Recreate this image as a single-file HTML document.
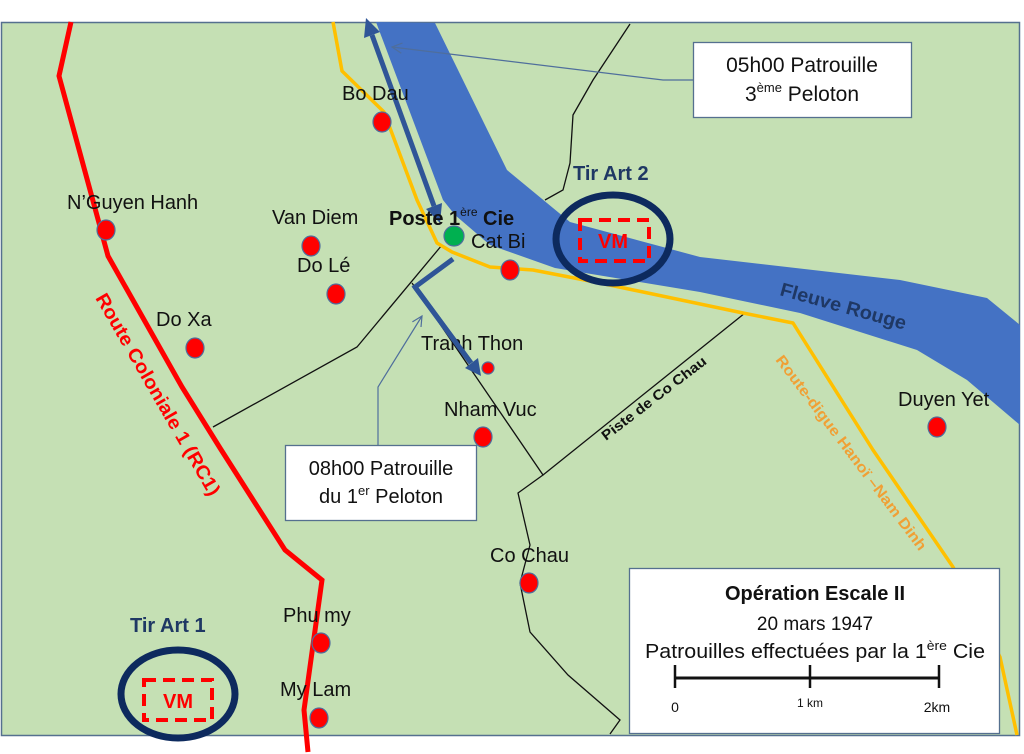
<!DOCTYPE html>
<html><head><meta charset="utf-8"><style>
html,body{margin:0;padding:0;background:#fff;}
svg{display:block;}
text{font-family:"Liberation Sans",Arial,sans-serif;}
</style></head><body>
<svg width="1024" height="754" viewBox="0 0 1024 754" xmlns="http://www.w3.org/2000/svg">
<rect x="0" y="0" width="1024" height="754" fill="#ffffff"/>
<rect x="1.5" y="22.5" width="1018" height="713" fill="#C5E0B4" stroke="#55708f" stroke-width="1.5"/>

<!-- tracks -->
<g fill="none" stroke="#111" stroke-width="1.3">
<polyline points="630,24 593,80 573,115 570,163 563,190 545,200"/>
<polyline points="442,245 357,347 213,427"/>
<polyline points="412,283 543,475 518,493 530,545 520,583 530,632 568,675 620,720 610,734"/>
<polyline points="543,475 745,313"/>
</g>

<!-- river -->
<polygon fill="#4472C4" points="376,22 435,23 507,170 570,222 700,257 900,280 987,298 1020,325 1020,425 967,380 917,350 800,313 700,292 555,268 490,245 455,215 443,200"/>

<!-- yellow road -->
<polyline fill="none" stroke="#FFC000" stroke-width="3.5" stroke-linejoin="round" points="333,22 342,71 384,112 417,200 437,243 452,252 490,267 533,270 600,283 743,313 793,323 873,450 953,567 1000,657 1017,735"/>

<!-- red road -->
<polyline fill="none" stroke="#FF0000" stroke-width="5" stroke-linejoin="miter" points="71,22 59,76 108,256 182,387 220,448 285,550 322,580 304,710 308,752"/>

<!-- dark arrow 1 (double headed) -->
<g fill="#2F5597" stroke="none">
<line x1="372" y1="35" x2="434" y2="206" stroke="#2F5597" stroke-width="5"/>
<polygon points="366,18 380,32 364,38"/>
<polygon points="440,223 442,203 426,209"/>
</g>
<!-- dark arrow 2 -->
<polyline fill="none" stroke="#2F5597" stroke-width="5" points="453,259 415,287 471,363"/>
<polygon fill="#2F5597" points="481,376 478,358 465,368"/>

<!-- callout lines -->
<g fill="none" stroke="#4F6E9C" stroke-width="1.2">
<polyline points="693,80 663,80 392,47"/>
<polyline points="402.5,43 392,47 401.3,53.2"/>
<polyline points="378,445 378,387 422,316"/>
<polyline points="421,327 422,316 412.4,321.9"/>
</g>

<!-- callout boxes -->
<rect x="693.5" y="42.5" width="218" height="75" fill="#fff" stroke="#55708f" stroke-width="1.3"/>
<text x="802" y="72" font-size="21" text-anchor="middle" fill="#111">05h00  Patrouille</text>
<text x="802" y="101" font-size="21" text-anchor="middle" fill="#111">3<tspan font-size="13" dy="-9">ème</tspan><tspan dy="9"> Peloton</tspan></text>

<rect x="285.5" y="445.5" width="191" height="75" fill="#fff" stroke="#55708f" stroke-width="1.3"/>
<text x="381" y="475" font-size="20" text-anchor="middle" fill="#111">08h00 Patrouille</text>
<text x="381" y="503" font-size="20" text-anchor="middle" fill="#111">du 1<tspan font-size="13" dy="-8">er</tspan><tspan dy="8"> Peloton</tspan></text>

<!-- Tir Art 2 -->
<ellipse cx="613" cy="239" rx="57" ry="44" fill="none" stroke="#0D2A5E" stroke-width="7"/>
<rect x="580" y="220" width="69" height="41" fill="none" stroke="#FF0000" stroke-width="4" stroke-dasharray="12,7"/>
<text x="613" y="248" font-size="20" text-anchor="middle" fill="#FF0000" font-weight="bold">VM</text>
<text x="573" y="180" font-size="20" font-weight="bold" fill="#1F3864">Tir Art 2</text>

<!-- Tir Art 1 -->
<ellipse cx="178" cy="694" rx="57" ry="44" fill="none" stroke="#0D2A5E" stroke-width="7"/>
<rect x="144" y="680" width="68" height="40" fill="none" stroke="#FF0000" stroke-width="4" stroke-dasharray="12,7"/>
<text x="178" y="708" font-size="20" text-anchor="middle" fill="#FF0000" font-weight="bold">VM</text>
<text x="130" y="632" font-size="20" font-weight="bold" fill="#1F3864">Tir Art 1</text>

<!-- dots -->
<g fill="#FF0000" stroke="#4F6E9C" stroke-width="1.2">
<ellipse cx="382" cy="122" rx="9" ry="10"/>
<ellipse cx="106" cy="230" rx="9" ry="10"/>
<ellipse cx="311" cy="246" rx="9" ry="10"/>
<ellipse cx="336" cy="294" rx="9" ry="10"/>
<ellipse cx="195" cy="348" rx="9" ry="10"/>
<ellipse cx="510" cy="270" rx="9" ry="10"/>
<ellipse cx="488" cy="368" rx="6" ry="6"/>
<ellipse cx="483" cy="437" rx="9" ry="10"/>
<ellipse cx="529" cy="583" rx="9" ry="10"/>
<ellipse cx="937" cy="427" rx="9" ry="10"/>
<ellipse cx="321" cy="643" rx="9" ry="10"/>
<ellipse cx="319" cy="718" rx="9" ry="10"/>
</g>
<circle cx="454" cy="236" r="10" fill="#00B050" stroke="#4F6E9C" stroke-width="1.2"/>

<!-- labels -->
<g font-size="20" fill="#111">
<text x="342" y="100">Bo Dau</text>
<text x="67" y="209">N’Guyen Hanh</text>
<text x="272" y="224">Van Diem</text>
<text x="297" y="272">Do Lé</text>
<text x="156" y="326">Do Xa</text>
<text x="471" y="248">Cat Bi</text>
<text x="421" y="350">Tranh Thon</text>
<text x="444" y="416">Nham Vuc</text>
<text x="490" y="562">Co Chau</text>
<text x="898" y="406">Duyen Yet</text>
<text x="283" y="622">Phu my</text>
<text x="280" y="696">My Lam</text>
</g>
<!-- re-draw arrow 2 over Tranh Thon text -->
<polyline fill="none" stroke="#2F5597" stroke-width="5" points="415,287 471,363"/>

<text x="389" y="225" font-size="20" font-weight="bold" fill="#111">Poste 1<tspan font-size="12" font-weight="normal" dy="-9">ère</tspan><tspan dy="9"> Cie</tspan></text>

<!-- rotated labels -->
<text x="95" y="298" font-size="19" font-weight="bold" fill="#FF0000" transform="rotate(60 95 298)" textLength="230" lengthAdjust="spacingAndGlyphs">Route Coloniale 1 (RC1)</text>
<text x="779" y="295" font-size="19" font-weight="bold" fill="#1F3864" transform="rotate(15.5 779 295)" textLength="130" lengthAdjust="spacingAndGlyphs">Fleuve Rouge</text>
<text x="606" y="441" font-size="14" font-weight="bold" fill="#111" transform="rotate(-37.5 606 441)" textLength="128" lengthAdjust="spacingAndGlyphs">Piste de Co Chau</text>
<text x="775" y="360" font-size="15" font-weight="bold" fill="#F0A035" transform="rotate(53 775 360)" textLength="240" lengthAdjust="spacingAndGlyphs">Route-digue  Hanoï –Nam Dinh</text>

<!-- legend -->
<rect x="629.5" y="568.5" width="370" height="165" fill="#fff" stroke="#55708f" stroke-width="1.3"/>
<text x="815" y="600" font-size="20" font-weight="bold" text-anchor="middle" fill="#111">Opération Escale II</text>
<text x="815" y="630" font-size="19" text-anchor="middle" fill="#111">20 mars 1947</text>
<text x="815" y="658" font-size="20" text-anchor="middle" fill="#111" textLength="340" lengthAdjust="spacingAndGlyphs">Patrouilles effectuées par la 1<tspan font-size="13" dy="-8">ère</tspan><tspan dy="8"> Cie</tspan></text>
<g stroke="#111" stroke-width="2.5">
<line x1="674" y1="678" x2="939" y2="678" stroke-width="3"/>
<line x1="675" y1="665" x2="675" y2="688"/>
<line x1="810" y1="665" x2="810" y2="688"/>
<line x1="939" y1="665" x2="939" y2="688"/>
</g>
<text x="675" y="712" font-size="14" text-anchor="middle" fill="#111">0</text>
<text x="810" y="707" font-size="12" text-anchor="middle" fill="#111">1 km</text>
<text x="937" y="712" font-size="14" text-anchor="middle" fill="#111">2km</text>
</svg>
</body></html>
